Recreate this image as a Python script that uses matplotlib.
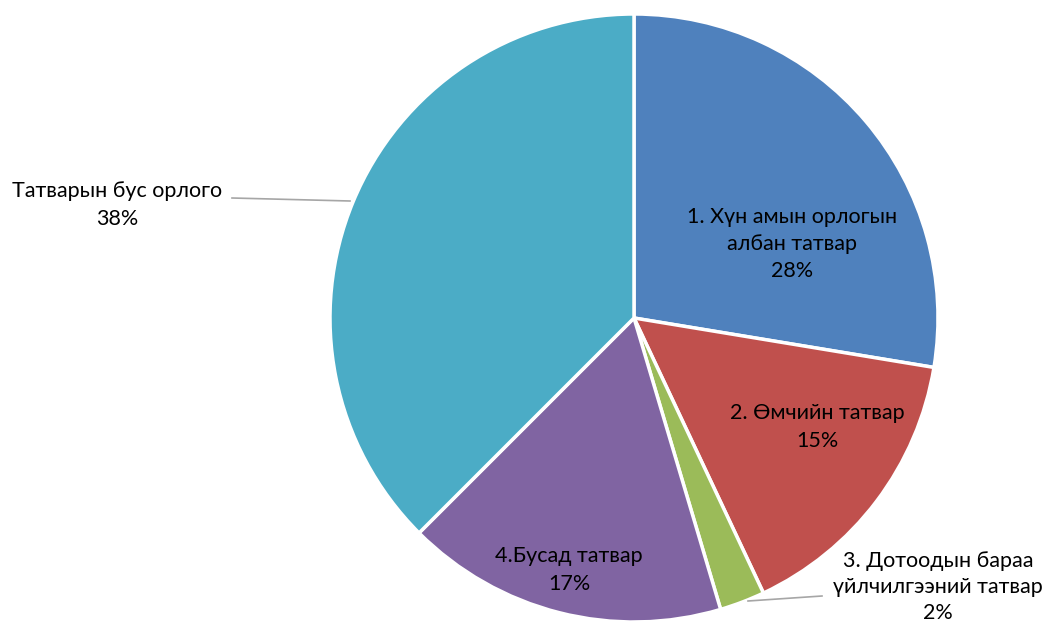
import matplotlib
matplotlib.use("Agg")
import matplotlib.pyplot as plt
import numpy as np

categories = ["1. Хүн амын орлогын\nалбан татвар", "2. Өмчийн татвар",
              "3. Дотоодын бараа\nүйлчилгээний татвар", "4.Бусад татвар",
              "Татварын бус орлого"]
values = [27.6, 15.4, 2.4, 17.1, 37.5]
colors = ["#4F81BD", "#C0504D", "#9BBB59", "#8064A2", "#4BACC6"]

plt.rcParams['font.family'] = ['Lato', 'DejaVu Sans']

W, H = 1047, 627
fig = plt.figure(figsize=(W / 100, H / 100), dpi=100)
ax = fig.add_axes([0, 0, 1, 1])
ax.set_xlim(0, W)
ax.set_ylim(0, H)
ax.set_aspect('equal')
ax.axis('off')

cx, cy, R = 634, H - 318, 304
wedges, _ = ax.pie(values, colors=colors, startangle=90, counterclock=False,
                   center=(cx, cy), radius=R,
                   wedgeprops=dict(edgecolor='white', linewidth=2.5))
ax.set_xlim(0, W)
ax.set_ylim(0, H)

total = sum(values)
pct = [f"{v / total * 100:.0f}%" for v in values]

# label placements (pixel coords from top-left)
label_pos = [(792, 244), (817, 427), (938, 587), (569, 570), (117, 205)]
spacing = [1.45, 1.45, 1.35, 1.45, 1.45]
fs = 15.5
for (lx, ly), cat, p, ls in zip(label_pos, categories, pct, spacing):
    ax.text(lx, H - ly, f"{cat}\n{p}", ha='center', va='center',
            fontsize=fs, color='black', linespacing=ls)

# leader lines
ax.plot([748, 822], [H - 601, H - 596], color='#A6A6A6', lw=1.2)
ax.plot([232, 350], [H - 198, H - 201], color='#A6A6A6', lw=1.2)

fig.savefig("out.png", dpi=100)
